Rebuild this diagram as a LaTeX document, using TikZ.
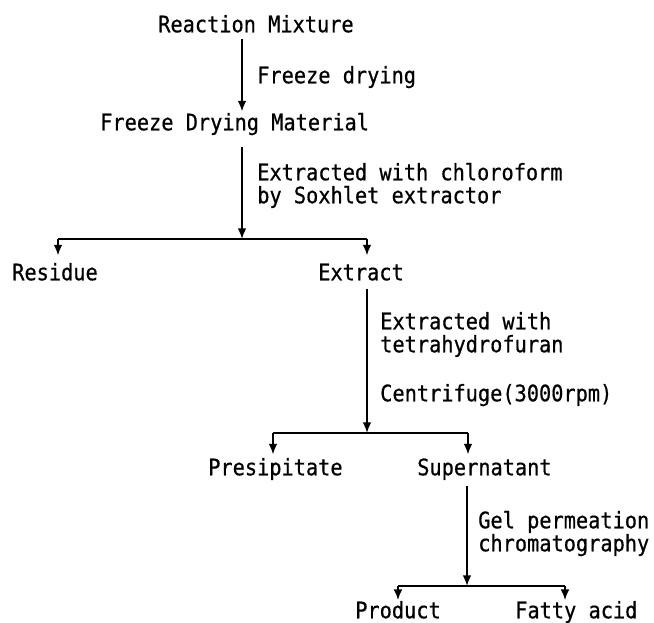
\documentclass[tikz,border=0pt]{standalone}
\usepackage{fontspec}
\setmonofont[FakeStretch=0.895,FakeBold=0.6]{DejaVu Sans Mono}
\usetikzlibrary{arrows.meta}
\begin{document}
\begin{tikzpicture}[x=0.75pt,y=-0.75pt,
  txt/.style={font=\fontsize{17}{20}\selectfont\ttfamily, inner sep=0pt, anchor=west, text height=12.4pt, text depth=0pt},
  flow/.style={line width=1.25pt},
  arr/.style={flow, -{Latex[length=8pt,width=6.5pt]}}]
\useasboundingbox (0,0) rectangle (654,623);
% spine and branch coordinates
\coordinate (s1) at (242,0);
\coordinate (b1) at (242,239);
\coordinate (d1l) at (58,239);
\coordinate (d1r) at (367,239);
\coordinate (s3) at (367,0);
\coordinate (b2) at (367,433);
\coordinate (d2l) at (273,433);
\coordinate (d2r) at (468,433);
\coordinate (s4) at (467,0);
\coordinate (b3) at (467,586);
\coordinate (d3l) at (398,586);
\coordinate (d3r) at (565,586);
% texts
\node[txt] (rm) at (158,24) {Reaction Mixture};
\node[txt] (l1) at (257,75) {Freeze drying};
\node[txt] (fdm) at (100,122) {Freeze Drying Material};
\node[txt] (l2a) at (257,172) {Extracted with chloroform};
\node[txt] (l2b) at (257,195) {by Soxhlet extractor};
\node[txt] (res) at (12,272) {Residue};
\node[txt] (ext) at (318,272) {Extract};
\node[txt] (l3a) at (380,321) {Extracted with};
\node[txt] (l3b) at (380,344) {tetrahydrofuran};
\node[txt] (l3c) at (380,393) {Centrifuge(3000rpm)};
\node[txt] (pre) at (208,467) {Presipitate};
\node[txt] (sup) at (417,467) {Supernatant};
\node[txt] (l4a) at (478,520) {Gel permeation};
\node[txt] (l4b) at (478,543) {chromatography};
\node[txt] (prod) at (355,610) {Product};
\node[txt] (fat) at (515,610) {Fatty acid};
% connectors
\draw[arr] ([yshift=-4.5pt]rm.south -| s1) -- ([yshift=1.5pt]fdm.north -| s1);
\draw[arr] ([yshift=-12.5pt]fdm.south -| s1) -- (b1);
\draw[flow] (d1l) -- (d1r);
\draw[arr] (d1l) -- ([yshift=6pt]res.north -| d1l);
\draw[arr] (d1r) -- ([yshift=6pt]ext.north -| d1r);
\draw[arr] ([yshift=-6pt]ext.south -| s3) -- (b2);
\draw[flow] (d2l) -- (d2r);
\draw[arr] (d2l) -- ([yshift=3pt]pre.north -| d2l);
\draw[arr] (d2r) -- ([yshift=3pt]sup.north -| d2r);
\draw[arr] ([yshift=-7.5pt]sup.south -| s4) -- (b3);
\draw[flow] (d3l) -- (d3r);
\draw[arr] (d3l) -- ([yshift=1pt]prod.north -| d3l);
\draw[arr] (d3r) -- ([yshift=1pt]fat.north -| d3r);
\end{tikzpicture}
\end{document}
